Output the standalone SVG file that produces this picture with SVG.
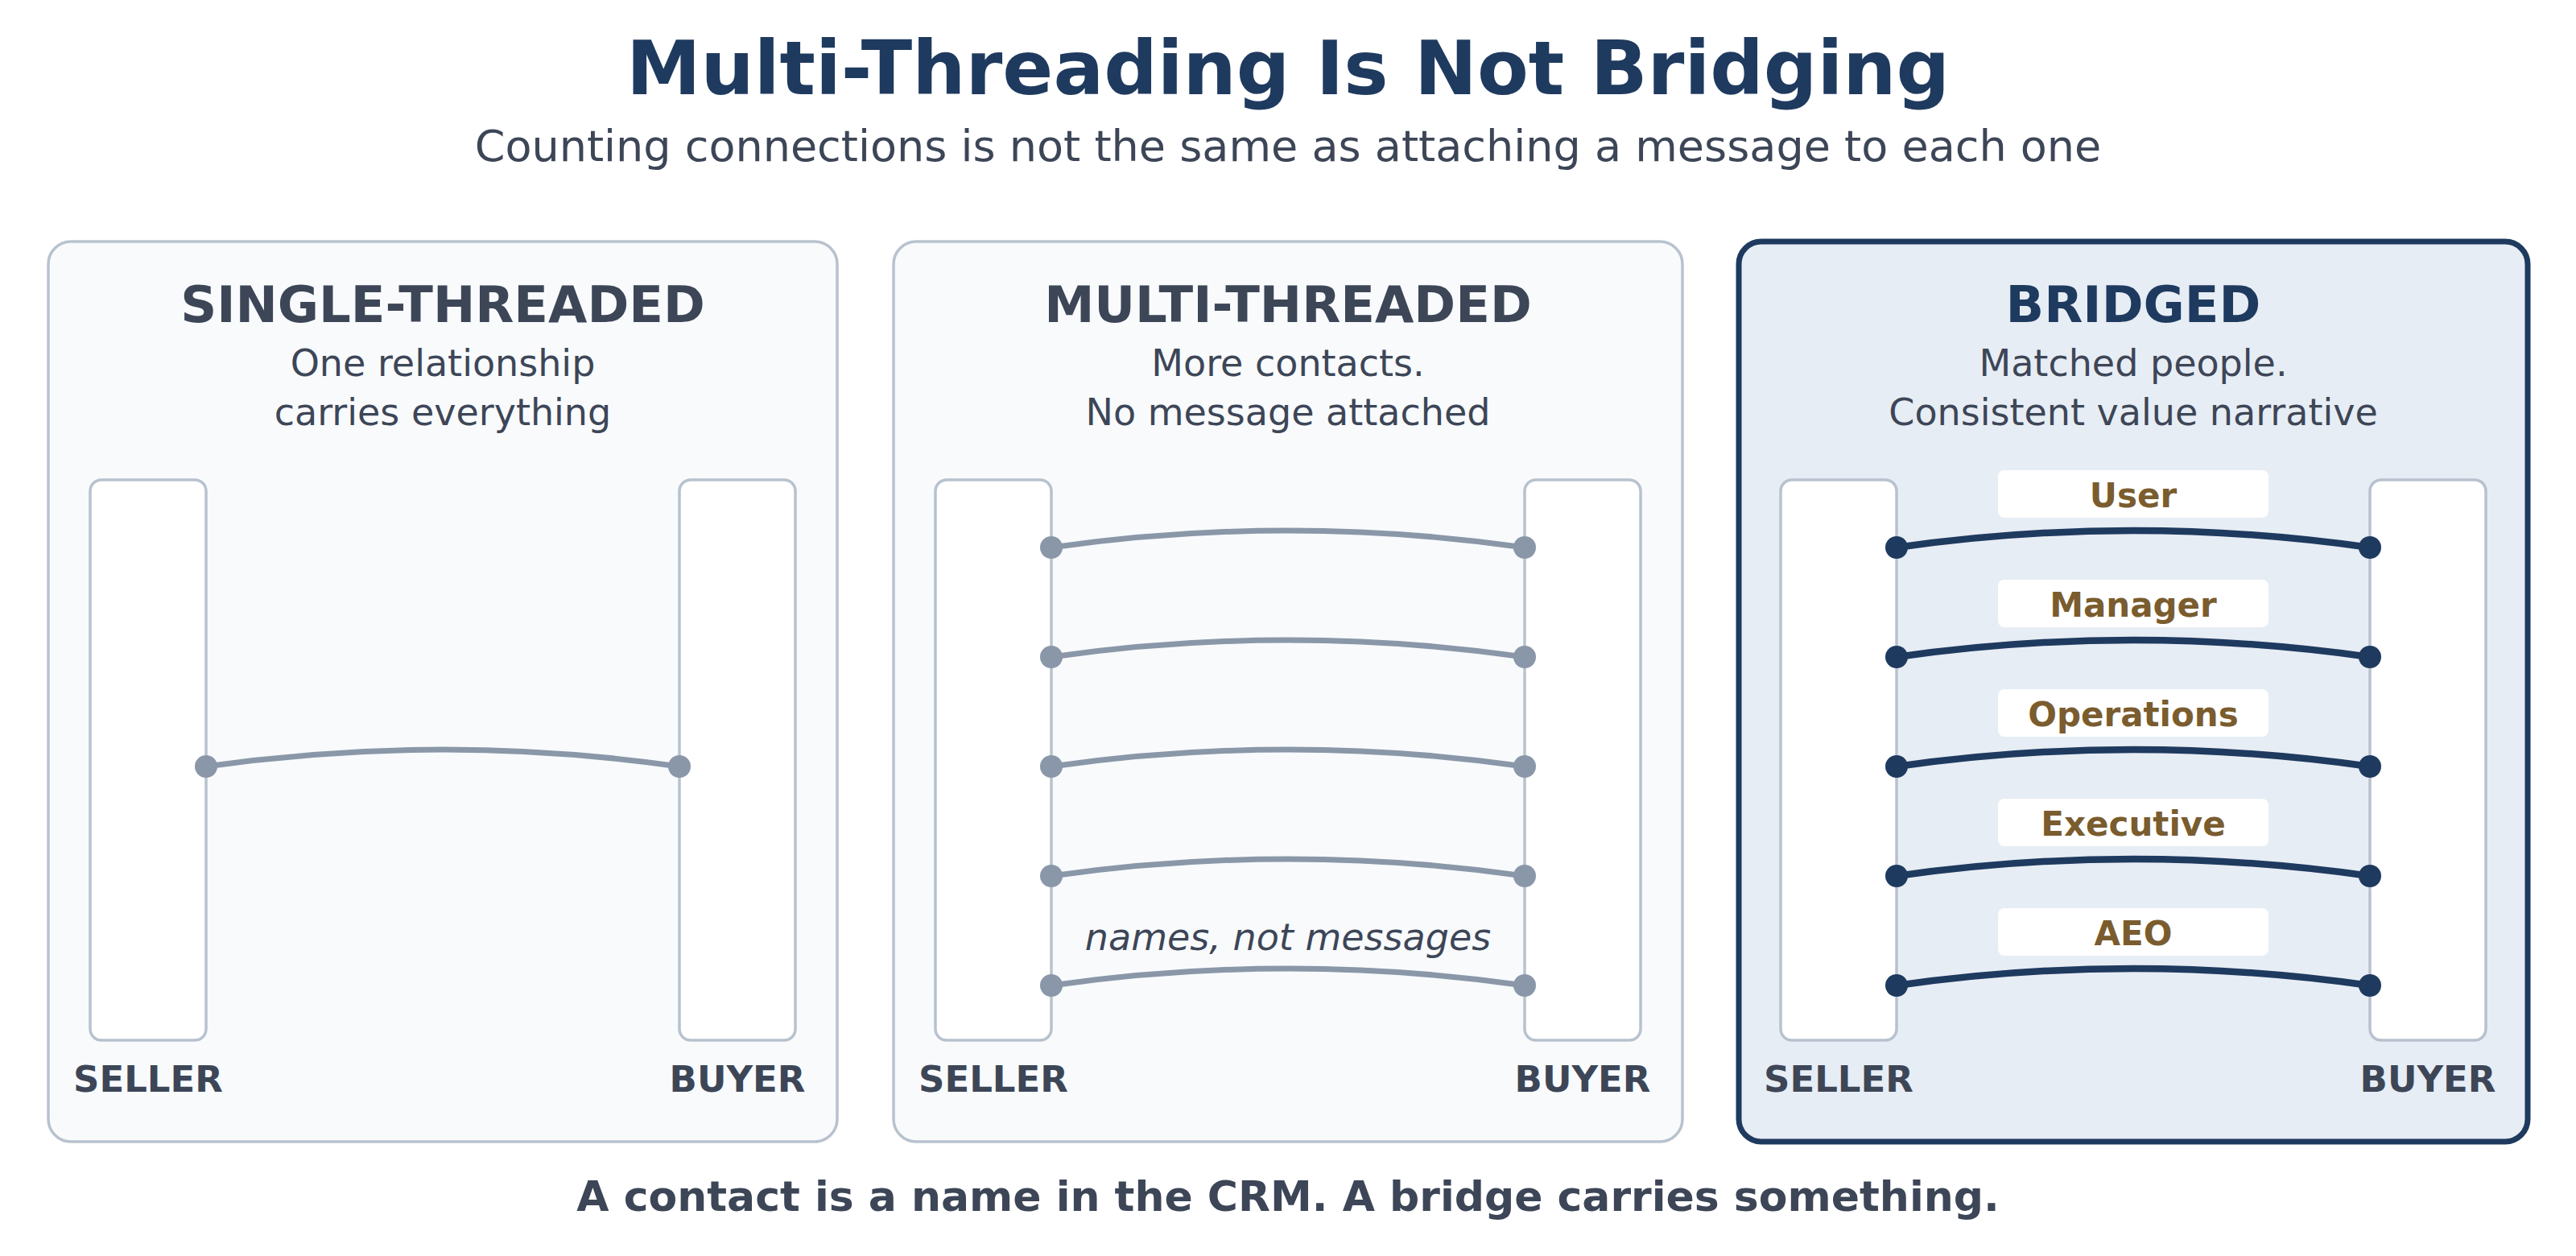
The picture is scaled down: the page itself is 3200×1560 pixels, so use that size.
<svg xmlns="http://www.w3.org/2000/svg" width="3200" height="1560" viewBox="0 0 3200 1560">
<style>
text{font-family:"DejaVu Sans","Liberation Sans",sans-serif}
.title{font-size:93px;font-weight:bold;fill:#1f3a5f;text-anchor:middle}
.sub{font-size:54px;fill:#3d4657;text-anchor:middle}
.panel{fill:#f8fafc;stroke:#b8c2ce;stroke-width:3.5}
.panel-b{fill:#e7edf4;stroke:#1f3a5f;stroke-width:7}
.head{font-size:62.5px;font-weight:bold;fill:#3d4657;text-anchor:middle}
.head-b{fill:#1f3a5f}
.desc{font-size:46px;fill:#3d4657;text-anchor:middle}
.side{fill:#ffffff;stroke:#b8c2ce;stroke-width:3.5}
.role{font-size:45px;font-weight:bold;fill:#3d4657;text-anchor:middle}
.wire{fill:none;stroke:#8a97a8;stroke-width:7}
.wire-b{fill:none;stroke:#1f3a5f;stroke-width:8.5}
.dot{fill:#8a97a8}
.dot-b{fill:#1f3a5f}
.lbox{fill:#ffffff}
.ltxt{font-size:42px;font-weight:bold;fill:#7a5c2e;text-anchor:middle}
.note{font-size:46px;font-style:italic;fill:#3d4657;text-anchor:middle}
.foot{font-size:52px;font-weight:bold;fill:#3d4657;text-anchor:middle}
</style>
<rect width="3200" height="1560" fill="#ffffff"/>
<g id="header">
<text class="title" x="1600" y="117">Multi-Threading Is Not Bridging</text>
<text class="sub" x="1600" y="200">Counting connections is not the same as attaching a message to each one</text>
</g>
<g id="panel-single">
<rect class="panel" x="60" y="300" width="980" height="1118" rx="28"/>
<text class="head" x="550" y="400">SINGLE-THREADED</text>
<text class="desc" x="550" y="467">One relationship</text>
<text class="desc" x="550" y="528">carries everything</text>
<rect class="side" x="112" y="596" width="144" height="696" rx="14"/>
<rect class="side" x="844" y="596" width="144" height="696" rx="14"/>
<text class="role" x="184" y="1356">SELLER</text>
<text class="role" x="916" y="1356">BUYER</text>
</g>
<g id="panel-multi">
<rect class="panel" x="1110" y="300" width="980" height="1118" rx="28"/>
<text class="head" x="1600" y="400">MULTI-THREADED</text>
<text class="desc" x="1600" y="467">More contacts.</text>
<text class="desc" x="1600" y="528">No message attached</text>
<rect class="side" x="1162" y="596" width="144" height="696" rx="14"/>
<rect class="side" x="1894" y="596" width="144" height="696" rx="14"/>
<text class="role" x="1234" y="1356">SELLER</text>
<text class="role" x="1966" y="1356">BUYER</text>
<text class="note" x="1600" y="1180">names, not messages</text>
</g>
<g id="panel-bridged">
<rect class="panel-b" x="2160" y="300" width="980" height="1118" rx="28"/>
<text class="head head-b" x="2650" y="400">BRIDGED</text>
<text class="desc" x="2650" y="467">Matched people.</text>
<text class="desc" x="2650" y="528">Consistent value narrative</text>
<rect class="side" x="2212" y="596" width="144" height="696" rx="14"/>
<rect class="side" x="2944" y="596" width="144" height="696" rx="14"/>
<text class="role" x="2284" y="1356">SELLER</text>
<text class="role" x="3016" y="1356">BUYER</text>
</g>
<g id="connectors">
<path class="wire" d="M256 952 Q550 910 844 952"/>
<circle class="dot" cx="256" cy="952" r="14"/>
<circle class="dot" cx="844" cy="952" r="14"/>

<path class="wire" d="M1306 680 Q1600 638 1894 680"/>
<path class="wire" d="M1306 816 Q1600 774 1894 816"/>
<path class="wire" d="M1306 952 Q1600 910 1894 952"/>
<path class="wire" d="M1306 1088 Q1600 1046 1894 1088"/>
<path class="wire" d="M1306 1224 Q1600 1182 1894 1224"/>
<g class="dot">
<circle cx="1306" cy="680" r="14"/><circle cx="1894" cy="680" r="14"/>
<circle cx="1306" cy="816" r="14"/><circle cx="1894" cy="816" r="14"/>
<circle cx="1306" cy="952" r="14"/><circle cx="1894" cy="952" r="14"/>
<circle cx="1306" cy="1088" r="14"/><circle cx="1894" cy="1088" r="14"/>
<circle cx="1306" cy="1224" r="14"/><circle cx="1894" cy="1224" r="14"/>
</g>

<path class="wire-b" d="M2356 680 Q2650 638 2944 680"/>
<path class="wire-b" d="M2356 816 Q2650 774 2944 816"/>
<path class="wire-b" d="M2356 952 Q2650 910 2944 952"/>
<path class="wire-b" d="M2356 1088 Q2650 1046 2944 1088"/>
<path class="wire-b" d="M2356 1224 Q2650 1182 2944 1224"/>
<g class="dot-b">
<circle cx="2356" cy="680" r="14"/><circle cx="2944" cy="680" r="14"/>
<circle cx="2356" cy="816" r="14"/><circle cx="2944" cy="816" r="14"/>
<circle cx="2356" cy="952" r="14"/><circle cx="2944" cy="952" r="14"/>
<circle cx="2356" cy="1088" r="14"/><circle cx="2944" cy="1088" r="14"/>
<circle cx="2356" cy="1224" r="14"/><circle cx="2944" cy="1224" r="14"/>
</g>
</g>
<g id="bridge-labels">
<rect class="lbox" x="2482" y="584" width="336" height="59" rx="8"/>
<text class="ltxt" x="2650" y="630">User</text>
<rect class="lbox" x="2482" y="720" width="336" height="59" rx="8"/>
<text class="ltxt" x="2650" y="766">Manager</text>
<rect class="lbox" x="2482" y="856" width="336" height="59" rx="8"/>
<text class="ltxt" x="2650" y="902">Operations</text>
<rect class="lbox" x="2482" y="992" width="336" height="59" rx="8"/>
<text class="ltxt" x="2650" y="1038">Executive</text>
<rect class="lbox" x="2482" y="1128" width="336" height="59" rx="8"/>
<text class="ltxt" x="2650" y="1174">AEO</text>
</g>
<g id="footer">
<text class="foot" x="1600" y="1504">A contact is a name in the CRM. A bridge carries something.</text>
</g>
</svg>
